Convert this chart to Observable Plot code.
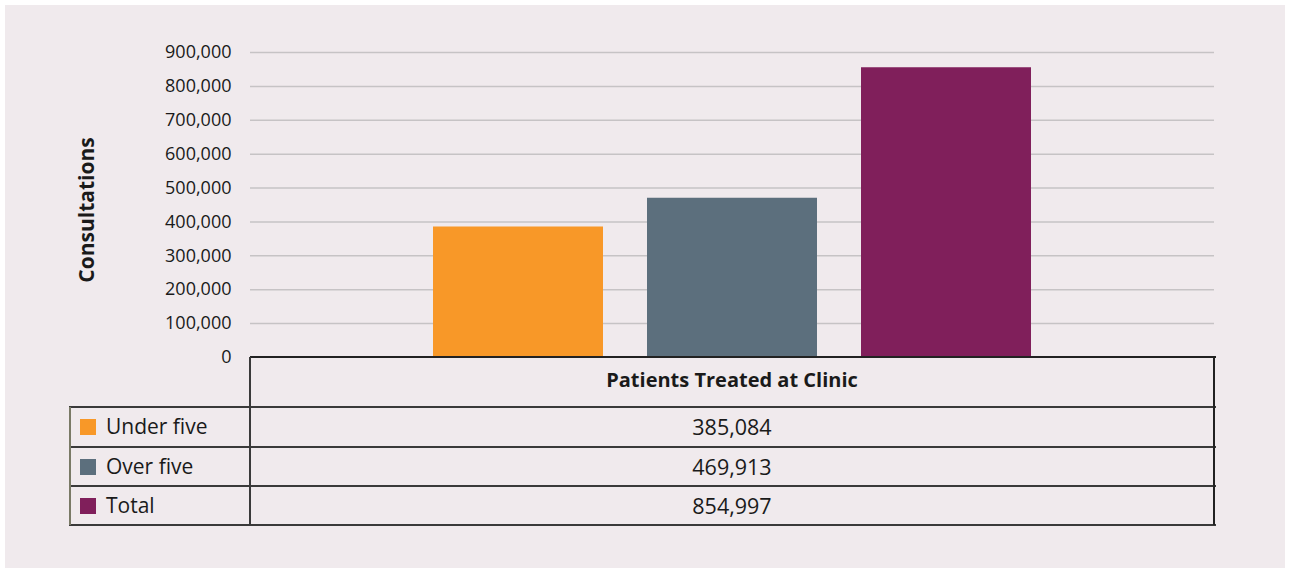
<!DOCTYPE html>
<html><head><meta charset="utf-8">
<script src="https://cdn.jsdelivr.net/npm/d3@7"></script>
<script src="https://cdn.jsdelivr.net/npm/@observablehq/plot@0.6"></script>
<style>
html,body{margin:0;padding:0;background:#fff;width:1290px;height:571px;overflow:hidden;}
#wrap{position:absolute;left:5px;top:5px;width:1280px;height:563px;background:#f0eaed;font-family:"Open Sans",sans-serif;color:#1a1a1a;}
#chart{position:absolute;left:0;top:0;}
.hl{position:absolute;height:2px;background:#3a3a3a;}
.vl{position:absolute;width:2px;background:#3a3a3a;}
.txt{position:absolute;white-space:nowrap;line-height:1;}
.sw{position:absolute;width:16px;height:16px;}
</style></head>
<body><div id="wrap"><div id="chart"></div><div id="table"></div></div>
<script>
const categories = ["Under five", "Over five", "Total"];
const values = [385084, 469913, 854997];
const colors = ["#f89828", "#5c6f7d", "#801f5b"];
const yTicks = [0, 100000, 200000, 300000, 400000, 500000, 600000, 700000, 800000, 900000];
const yLabel = "Consultations";
const tableHeader = "Patients Treated at Clinic";

const data = categories.map((c, i) => ({cat: c, value: values[i]}));
const fmt = d3.format(",");

const plot = Plot.plot({
  width: 1280,
  height: 563,
  marginLeft: 245,
  marginRight: 71,
  marginTop: 47,
  marginBottom: 211,
  style: {background: "transparent", fontFamily: "'Open Sans', sans-serif", fontSize: "18px", color: "#1a1a1a", overflow: "visible"},
  x: {domain: categories, axis: null, paddingInner: 0.2056, paddingOuter: 0.853},
  y: {domain: [0, 900000], ticks: yTicks, tickFormat: fmt, tickSize: 0, tickPadding: 19, label: null},
  color: {domain: categories, range: colors},
  marks: [
    Plot.ruleY(yTicks.filter(d => d > 0), {stroke: "#c6c3c5", strokeWidth: 1.5}),
    Plot.barY(data, {x: "cat", y: "value", fill: "cat"}),
    Plot.text([yLabel], {frameAnchor: "left", textAnchor: "middle", dx: -163, dy: 5, rotate: -90, text: d => d, fontWeight: "bold", fontSize: 21, fill: "#1a1a1a"})
  ]
});
document.getElementById("chart").appendChild(plot);

// data table below the chart
const t = document.getElementById("table");
function add(cls, style, html) {
  const e = document.createElement("div");
  e.className = cls;
  Object.assign(e.style, style);
  if (html != null) e.textContent = html;
  t.appendChild(e);
  return e;
}
const L = 64, M = 245, R = 1209, top0 = 352, rowTops = [402, 442, 481, 520];
add("hl", {left: M + "px", top: (top0 - 1) + "px", width: (R - M + 2) + "px", background: "#222"});
rowTops.forEach(y => add("hl", {left: L + "px", top: (y - 1) + "px", width: (R - L + 2) + "px"}));
add("vl", {left: (M - 1) + "px", top: top0 + "px", height: (rowTops[3] - top0) + "px"});
add("vl", {left: (R - 1) + "px", top: top0 + "px", height: (rowTops[3] - top0) + "px", background: "#222"});
add("vl", {left: L + "px", top: rowTops[0] + "px", height: (rowTops[3] - rowTops[0]) + "px", width: "1.5px", background: "#7a7a66"});
add("txt", {left: M + "px", width: (R - M) + "px", textAlign: "center", top: (top0 + 13) + "px", fontWeight: "bold", fontSize: "20px"}, tableHeader);
categories.forEach((c, i) => {
  const yc = (rowTops[i] + rowTops[i + 1]) / 2;
  add("sw", {left: "75px", top: (yc - 8) + "px", background: colors[i]});
  add("txt", {left: "101px", top: (yc - 11) + "px", fontSize: "21px"}, c);
  add("txt", {left: M + "px", width: (R - M) + "px", textAlign: "center", top: (yc - 11) + "px", fontSize: "21.5px"}, fmt(values[i]));
});
</script>
</body></html>
